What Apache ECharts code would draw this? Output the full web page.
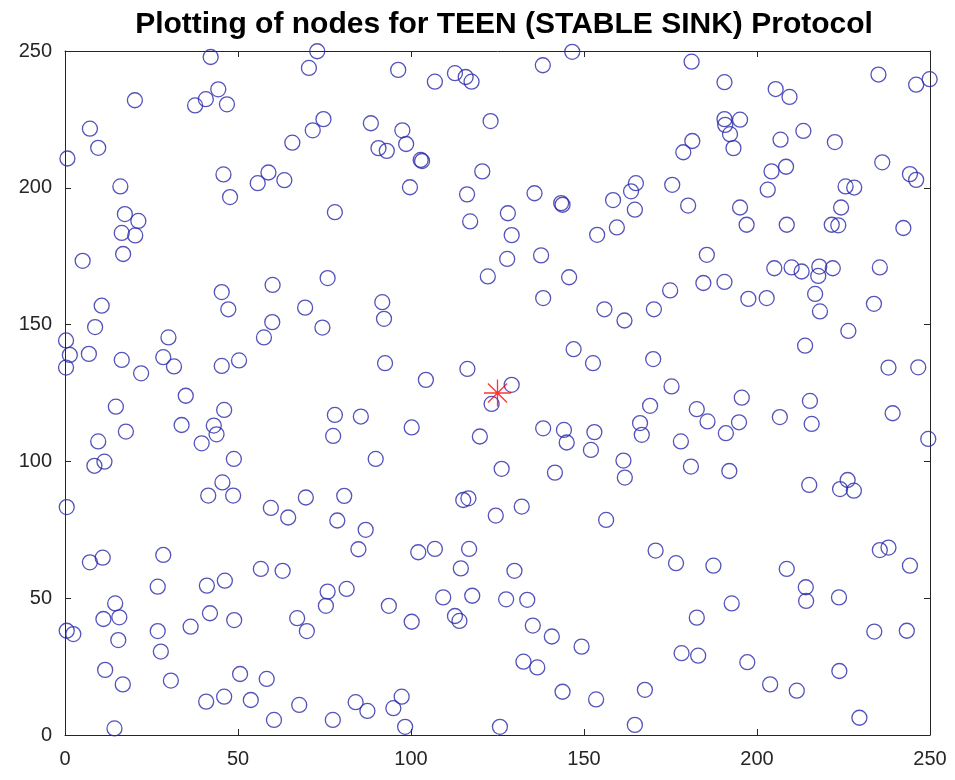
<!DOCTYPE html>
<html>
<head>
<meta charset="utf-8">
<script src="https://cdn.jsdelivr.net/npm/echarts@6/dist/echarts.min.js"></script>
<style>
  html, body { margin: 0; padding: 0; background: #ffffff; }
  #chart { width: 955px; height: 780px; }
</style>
</head>
<body>
<div id="chart"></div>
<script>
// Sensor node positions (x, y) in the 250 x 250 field
const nodeX = [
  42.1, 72.9, 70.5, 20.2, 44.3, 40.7, 37.6, 46.8, 7.2, 9.6, 0.7, 16, 17.3, 21.2, 16.4, 20.3, 16.8, 5.1, 45.8, 47.7, 55.7, 58.8, 63.4, 65.7, 71.6, 74.7, 78,
  96.3, 106.9, 112.7, 115.8, 117.5, 138.1, 146.6, 123, 88.4, 97.5, 98.6, 90.6, 93, 102.8, 103.2, 99.7, 120.6, 116.2, 117.1, 128, 129.1, 127.8, 135.7, 143.4, 143.8, 137.6, 153.8, 159.5, 158.4, 163.6, 165, 164.7,
  181.1, 190.6, 205.4, 209.4, 235.1, 246, 249.9, 190.6, 195.1, 190.8, 192.2, 193.2, 181.3, 178.7, 206.8, 213.4, 222.5, 175.5, 180.1, 204.2, 208.4, 203.1, 195.1, 197, 208.6, 225.6, 228.1, 224.3, 221.6, 223.5, 236.2, 244.2, 246, 242.3, 185.5, 205, 210, 212.9, 218, 221.9, 235.5, 217.7,
  75.9, 60, 45.3, 47.2, 69.4, 59.9, 57.5, 74.4, 10.6, 8.7, 0.3, 1.4, 0.3, 6.9, 16.4, 22, 29.9, 28.4, 31.5, 45.3, 50.3, 34.9, 14.7, 17.6, 9.6, 8.5, 11.4, 33.7, 46, 43, 43.8, 39.5, 48.8, 45.5, 41.4, 48.6, 59.5, 69.6, 80.7, 78, 77.5, 0.5,
  122.2, 145.7, 138.2, 155.9, 161.7, 91.7, 92.2, 92.5, 104.3, 116.3, 129.1, 123.3, 147, 152.6, 85.5, 100.2, 119.9, 89.8, 138.2, 144.2, 145, 153, 152, 161.4, 161.8, 169.1, 166.2, 166.7, 126.2, 141.6, 115.1, 116.6, 132, 124.5,
  184.5, 190.6, 174.9, 170.2, 197.5, 202.8, 216.8, 218.2, 233.8, 226.4, 213.9, 170, 238, 246.6, 175.3, 195.6, 182.6, 185.7, 194.8, 191, 206.6, 215.3, 215.8, 239.2, 249.5, 178, 180.9, 192, 215.1, 226.2, 224, 228,
  64.5, 78.7, 84.8, 86.9, 7.2, 10.9, 28.4, 26.8, 41, 46.2, 56.6, 62.9, 14.5, 11.1, 15.7, 0.5, 2.4, 15.4, 26.8, 27.7, 36.3, 41.9, 48.9, 67.1, 69.9, 75.9, 75.4, 81.4, 11.6, 16.7, 30.6, 50.6, 58.3, 40.8, 46, 53.7, 67.7, 60.4, 77.4, 14.3, 84,
  156.4, 102.1, 106.9, 116.8, 114.4, 129.9, 93.6, 100.2, 109.3, 117.7, 112.7, 114, 127.5, 133.6, 135.2, 140.7, 149.3, 132.5, 136.5, 143.8, 153.5, 87.4, 97.3, 94.9, 98.3, 125.7, 164.7,
  170.7, 176.6, 187.4, 208.6, 214.1, 214.2, 223.7, 235.5, 238, 244.2, 192.7, 182.6, 233.9, 243.3, 178.2, 183, 197.2, 223.8, 203.8, 211.5, 167.6, 229.6
];
const nodeY = [
  247.8, 249.9, 243.8, 232, 236, 232.4, 230.1, 230.5, 221.6, 214.6, 210.7, 200.5, 190.4, 187.9, 183.5, 182.6, 175.8, 173.3, 204.9, 196.6, 201.7, 205.6, 202.8, 216.5, 221, 225.1, 191.1,
  243.1, 238.8, 241.9, 240.5, 238.8, 244.8, 249.7, 224.4, 223.6, 221, 216, 214.5, 213.5, 210.2, 209.8, 200.2, 206, 197.6, 187.7, 190.7, 182.7, 174, 198, 194.4, 193.8, 175.3, 182.8, 185.5, 195.5, 198.7, 201.7, 192,
  246.1, 238.6, 236.1, 233.2, 241.4, 237.7, 239.7, 225.1, 224.9, 223, 219.6, 214.5, 217.1, 213, 217.6, 220.8, 216.7, 201.1, 193.5, 206, 207.7, 199.3, 192.8, 186.5, 186.5, 200.5, 200.1, 192.8, 186.5, 186.3, 209.3, 205, 202.9, 185.3, 175.5, 170.6, 170.9, 169.4, 171.2, 170.6, 170.9, 167.8,
  167, 164.5, 161.9, 155.6, 156.2, 150.9, 145.3, 148.9, 156.9, 149.1, 144.2, 138.9, 134.3, 139.3, 137.1, 132.2, 145.3, 138.1, 134.7, 134.9, 136.9, 124, 120, 110.9, 107.3, 98.4, 99.9, 113.3, 118.8, 113.1, 109.9, 106.6, 100.9, 92.3, 87.5, 87.5, 83, 86.8, 87.4, 117, 109.3, 83.3,
  167.6, 167.3, 159.7, 155.6, 151.5, 158.2, 152.1, 135.9, 129.8, 133.8, 128, 121, 141, 135.9, 116.4, 112.4, 109.1, 100.9, 112.1, 111.5, 106.9, 110.7, 104.2, 100.3, 94.1, 120.3, 114, 109.7, 97.3, 95.9, 85.9, 86.5, 83.5, 80.2,
  165.2, 165.6, 162.5, 155.6, 159.4, 159.7, 161.2, 154.8, 157.6, 147.7, 142.3, 137.4, 134.3, 134.4, 127.4, 123.3, 119.1, 114.6, 114.3, 110.3, 116.2, 122.1, 113.7, 117.6, 108.2, 107.3, 98.1, 96.5, 91.4, 93.2, 89.9, 89.3,
  79.5, 78.4, 67.9, 75, 63.1, 64.8, 65.8, 54.2, 54.6, 56.4, 60.7, 60, 48.1, 42.4, 43, 38.1, 36.9, 34.7, 38, 30.5, 39.6, 44.5, 42, 42.7, 38, 52.4, 47.2, 53.4, 23.8, 18.5, 19.9, 22.3, 20.5, 12.2, 14, 12.8, 11, 5.5, 5.5, 2.4, 12,
  78.6, 66.8, 68, 68, 60.9, 60, 47.2, 41.4, 50.3, 50.9, 43.5, 41.7, 49.6, 49.4, 40, 36, 32.3, 26.8, 24.7, 15.8, 13, 8.8, 14, 9.8, 3, 3, 3.7,
  67.4, 62.8, 61.9, 60.7, 54, 49, 50.3, 67.6, 68.5, 61.9, 48.1, 42.9, 37.8, 38.1, 29.9, 29, 26.6, 23.4, 18.5, 16.2, 16.5, 6.3
];

// Sink location
const sinkX = [125];
const sinkY = [125];

// Axis ticks
const tickValues = [0, 50, 100, 150, 200, 250];

const chartTitle = 'Plotting of nodes for TEEN (STABLE SINK) Protocol';

const nodes = nodeX.map((x, i) => [x, nodeY[i]]);
const sink = sinkX.map((x, i) => [x, sinkY[i]]);

const axisColor = '#262626';
const font = '"Liberation Sans", Arial, Helvetica, sans-serif';

const chart = echarts.init(document.getElementById('chart'), null, { renderer: 'canvas' });

function baseAxis(extra) {
  return Object.assign({
    type: 'value',
    min: tickValues[0],
    max: tickValues[tickValues.length - 1],
    interval: 50,
    axisLine: { show: true, onZero: false, lineStyle: { color: axisColor, width: 1 } },
    axisTick: { show: true, inside: true, length: 6, lineStyle: { color: axisColor, width: 1 } },
    splitLine: { show: false }
  }, extra);
}

chart.setOption({
  animation: false,
  backgroundColor: '#ffffff',
  title: {
    text: chartTitle,
    left: 499,
    top: 5,
    textAlign: 'center',
    textStyle: { fontFamily: font, fontWeight: 'bold', fontSize: 30, color: '#000000' }
  },
  grid: { left: 65, right: 25, top: 51, bottom: 45, containLabel: false },
  xAxis: [
    baseAxis({
      position: 'bottom',
      axisLabel: { show: true, fontFamily: font, fontSize: 20, color: axisColor, margin: 14 }
    }),
    baseAxis({ position: 'top', axisLabel: { show: false } })
  ],
  yAxis: [
    baseAxis({
      position: 'left',
      axisLabel: { show: true, fontFamily: font, fontSize: 20, color: axisColor, margin: 13 }
    }),
    baseAxis({ position: 'right', axisLabel: { show: false } })
  ],
  series: [
    {
      name: 'Nodes',
      type: 'scatter',
      xAxisIndex: 0,
      yAxisIndex: 0,
      clip: false,
      symbol: 'circle',
      symbolSize: 15,
      itemStyle: { color: 'transparent', borderColor: '#2828aa', borderWidth: 1.3 },
      data: nodes
    },
    {
      name: 'Sink',
      type: 'scatter',
      xAxisIndex: 0,
      yAxisIndex: 0,
      clip: false,
      symbol: 'path://M0,12L24,12M12,0L12,24M3.5,3.5L20.5,20.5M3.5,20.5L20.5,3.5',
      symbolSize: 27,
      itemStyle: { color: 'transparent', borderColor: '#ff0000', borderWidth: 1.3 },
      z: 5,
      data: sink
    }
  ]
});
</script>
</body>
</html>
